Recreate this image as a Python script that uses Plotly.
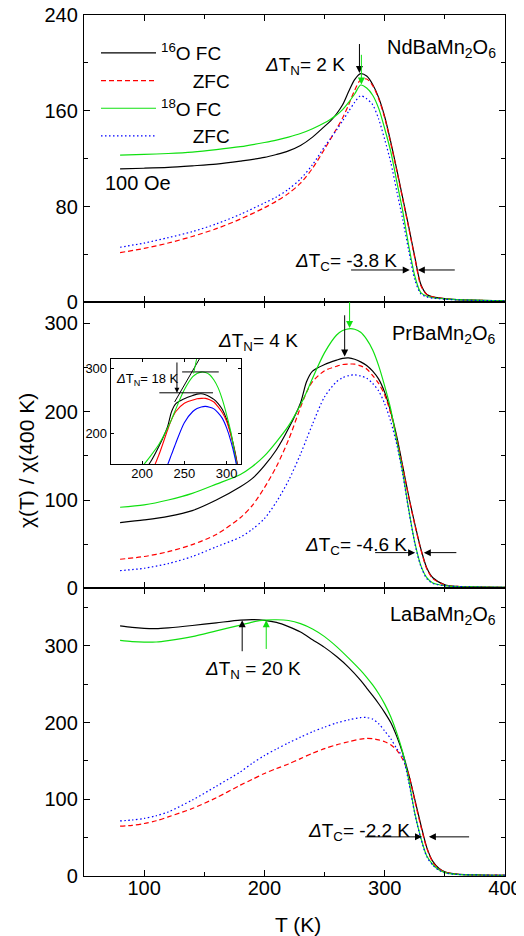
import plotly.graph_objects as go

# ---------------- data ----------------
series_names = ["<sup>16</sup>O FC", "\u00a0\u00a0\u00a0\u00a0\u00a0\u00a0ZFC",
                "<sup>18</sup>O FC", "\u00a0\u00a0\u00a0\u00a0\u00a0\u00a0ZFC"]
compounds = ["NdBaMn<sub>2</sub>O<sub>6</sub>", "PrBaMn<sub>2</sub>O<sub>6</sub>",
             "LaBaMn<sub>2</sub>O<sub>6</sub>"]

T_nd = [80, 100, 120, 140, 160, 180, 200, 210, 220, 230, 240, 250, 255, 260, 265, 270, 275,
        280, 285, 290, 295, 300, 305, 310, 315, 320, 325, 330, 335, 340, 350, 360, 380, 400]
nd_fc16 = [111.5, 112, 112.7, 114, 115.5, 118, 121, 123.5, 126.5, 131, 138, 147, 151.5,
           157.5, 165, 176, 186, 191, 189, 182, 171, 155, 134, 111, 87, 63, 38, 15, 6.5, 4.5,
           3, 2.2, 1.6, 1.3]
nd_zfc16 = [41.5, 45, 49.5, 55, 61.5, 69.5, 79, 84.5, 91, 99.5, 112, 128, 136.5, 145, 154,
            165, 177, 186, 186.5, 181, 170, 154, 133, 110, 86, 62, 37, 14, 6.5, 4.5, 3, 2.2,
            1.6, 1.3]
nd_fc18 = [123, 123.5, 124.3, 125.5, 127.5, 130, 133.5, 135.5, 138, 141, 145, 150, 153, 156.5,
           161, 167, 174, 181.5, 179, 173, 162, 145, 126, 101, 76, 47, 22, 8, 5, 3.8, 2.8,
           2.2, 1.6, 1.3]
nd_zfc18 = [46, 49.5, 54, 59, 65.5, 73.5, 83, 88, 94.5, 103, 115, 130, 137, 144, 151.5, 159.5,
            167, 172.5, 170, 165, 153, 136, 117, 93, 69, 43, 19, 7, 4.5, 3.5, 2.6, 2, 1.5, 1.2]

T_pr = [80, 100, 120, 140, 160, 180, 190, 200, 210, 220, 230, 235, 240, 250, 260, 265, 270,
        275, 280, 285, 290, 295, 300, 305, 310, 315, 320, 325, 330, 335, 340, 350, 360, 380, 400]
pr_fc16 = [74.4, 77.5, 81.5, 88, 100, 115, 124.5, 139, 157, 181, 210, 234, 246, 253.5, 258.5,
           260.5, 261, 259.5, 256.5, 252.5, 246, 237, 222, 200, 172, 138, 104, 73, 45, 23, 12,
           4, 2.2, 1.4, 1]
pr_zfc16 = [32.9, 36, 41.5, 49.5, 61, 80, 94, 114, 138, 168, 205, 222, 234, 246.5, 251.5,
            253.5, 254, 254, 252, 248.5, 241, 232, 219, 198, 170, 137, 103, 72, 44, 22, 11,
            3.8, 2.1, 1.4, 1]
pr_fc18 = [91.8, 94.5, 100, 107.5, 118, 129, 138, 150, 166, 184, 208, 222, 238, 267, 287,
           292, 294, 293.5, 290, 282, 270, 252, 229, 203, 167, 131, 89, 52, 26, 12, 6, 3, 2,
           1.4, 1]
pr_zfc18 = [20, 22.7, 28, 36, 47, 58, 67, 79, 98, 122, 152, 169, 186, 217, 234, 238.5, 241,
            241.8, 240.5, 238, 232, 223.5, 209, 189, 163, 129, 88, 51, 25, 11, 5.5, 3, 2, 1.3, 1]

T_la = [80, 90, 100, 110, 120, 140, 160, 180, 190, 200, 210, 220, 230, 240, 250, 260, 270,
        280, 285, 290, 295, 300, 305, 310, 315, 320, 325, 330, 335, 340, 345, 350, 360, 380,
        400]
la_fc16 = [326, 324, 322.8, 322.5, 323.5, 326.5, 330, 333.5, 334.2, 333.3, 330.5, 325, 318,
           308, 298, 286, 272, 255, 245, 235, 224.5, 213, 200, 182, 160, 132, 100, 67, 37, 19,
           10, 5.5, 2.5, 1.3, 1]
la_zfc16 = [65, 66, 68.4, 72, 77, 88, 102, 118.4, 126, 133.7, 140, 146, 153, 160, 166, 171,
            175, 178.5, 179.4, 179, 177.5, 175, 171, 164, 152, 132, 98, 65, 36, 18, 9.5, 5,
            2.4, 1.3, 1]
la_fc18 = [307, 305.5, 304.8, 305, 306.8, 312, 319.5, 327, 331, 333.5, 334, 333, 329, 322,
           312, 299, 284, 268, 259, 249, 237.5, 224, 207.5, 186.5, 161, 125, 82, 50, 26, 15, 8,
           4.5, 2.2, 1.3, 1]
la_zfc18 = [71.8, 73, 75, 78.5, 83.5, 99, 117, 135.8, 147, 157, 165.5, 173.5, 181, 188, 194,
            199.5, 203.5, 206.5, 206.5, 204.5, 198.5, 189, 179, 166, 155, 122, 81, 49, 25, 14,
            7.5, 4, 2.1, 1.3, 1]

x_range = [50, 400]
y_ranges = [[0, 240], [0, 324], [0, 375]]
y_dticks = [80, 100, 100]
inset_x_range = [163, 317]
inset_y_range = [154, 314]

# ---------------- styling ----------------
FONT = "Liberation Sans, Arial, sans-serif"
colors = ["#000000", "#ff0000", "#10e010", "#0000ff"]
dashes = ["solid", "5px,3px", "solid", "1.5px,2.5px"]

W, H = 524, 936
OFF = 8  # page body margin offset in the rendered view
ml, mr, mt, mb = 84 - OFF, 19 + OFF, 15 - OFF, 60 + OFF
pw = W - ml - mr
ph = H - mt - mb


def yf(py):
    return (H - mb - (py - OFF)) / ph


def xf(px):
    return (px - OFF - ml) / pw


dom1 = [yf(302.3), 1.0]
dom2 = [yf(588.3), yf(302.3)]
dom3 = [0.0, yf(588.3)]

fig = go.Figure()

panels = [
    (T_nd, [nd_fc16, nd_zfc16, nd_fc18, nd_zfc18], "x", "y"),
    (T_pr, [pr_fc16, pr_zfc16, pr_fc18, pr_zfc18], "x2", "y2"),
    (T_la, [la_fc16, la_zfc16, la_fc18, la_zfc18], "x3", "y3"),
]
for pi, (T, vals, xa, ya) in enumerate(panels):
    for si, v in enumerate(vals):
        fig.add_trace(go.Scatter(
            x=T, y=v, mode="lines", xaxis=xa, yaxis=ya,
            name=series_names[si], showlegend=(pi == 0),
            line=dict(color=colors[si], width=1.2, dash=dashes[si],
                      shape="spline", smoothing=0.8),
        ))

# inset (same PrBaMn2O6 data, solid lines)
for si, v in enumerate([pr_fc16, pr_zfc16, pr_fc18, pr_zfc18]):
    fig.add_trace(go.Scatter(
        x=T_pr, y=v, mode="lines", xaxis="x4", yaxis="y4", showlegend=False,
        line=dict(color=colors[si], width=1.1, shape="spline", smoothing=0.8),
    ))

axis_common = dict(showline=True, linecolor="black", linewidth=1.3, mirror="ticks",
                   ticks="inside", ticklen=6, tickwidth=1.2, tickcolor="black",
                   showgrid=False, zeroline=False, automargin=False,
                   ticklabeloverflow="allow",
                   tickfont=dict(family=FONT, size=20, color="black"))
xminor = dict(ticks="inside", ticklen=4, dtick=50, tickcolor="black", tickwidth=1.2)

layout = dict(
    template="none",
    width=W, height=H, margin=dict(l=ml, r=mr, t=mt, b=mb, pad=0),
    paper_bgcolor="white", plot_bgcolor="white",
    font=dict(family=FONT, size=20, color="black"),
    showlegend=True,
    legend=dict(x=xf(96), y=yf(34), xanchor="left", yanchor="top",
                bgcolor="rgba(0,0,0,0)", borderwidth=0, font=dict(family=FONT, size=19),
                itemwidth=55, tracegroupgap=0),
)
for i, dom in enumerate([dom1, dom2, dom3]):
    n = "" if i == 0 else str(i + 1)
    layout["xaxis" + n] = dict(axis_common, range=x_range, dtick=100, tick0=0,
                               minor=xminor, anchor="y" + n,
                               showticklabels=(i == 2), ticklabelstandoff=-6)
    layout["yaxis" + n] = dict(axis_common, range=y_ranges[i], dtick=y_dticks[i], tick0=0,
                               minor=dict(ticks="inside", ticklen=4, dtick=y_dticks[i] / 2,
                                          tickcolor="black", tickwidth=1.2),
                               anchor="x" + n, domain=dom, ticklabelstandoff=1)

inset_common = dict(showline=True, linecolor="black", linewidth=1, mirror="ticks",
                    ticks="inside", ticklen=3, tickcolor="black", showgrid=False,
                    zeroline=False, automargin=False, ticklabeloverflow="allow",
                    tickfont=dict(family=FONT, size=13, color="black"))
layout["xaxis4"] = dict(inset_common, range=inset_x_range, tickvals=[200, 250, 300],
                        domain=[xf(110.7), xf(241)], anchor="y4", ticklabelstandoff=-3)
layout["yaxis4"] = dict(inset_common, range=inset_y_range, tickvals=[200, 300],
                        domain=[yf(464), yf(359)], anchor="x4", ticklabelstandoff=0)
fig.update_layout(**layout)

ann = []


def text(x, y, s, xr, yr, size=19, xanchor="center", yanchor="middle"):
    ann.append(dict(x=x, y=y, xref=xr, yref=yr, text=s, showarrow=False,
                    xanchor=xanchor, yanchor=yanchor,
                    font=dict(family=FONT, size=size, color="black")))


def arrow(x, y, ax, ay, xr, yr, color="black", size=1.4):
    ann.append(dict(x=x, y=y, ax=ax, ay=ay, xref=xr, yref=yr, axref=xr, ayref=yr,
                    text="", showarrow=True, arrowhead=2, arrowsize=size,
                    arrowwidth=1, arrowcolor=color, standoff=0, startstandoff=0))


# panel labels
text(394, 212, compounds[0], "x", "y", size=20, xanchor="right")
text(394, 288, compounds[1], "x2", "y2", size=20, xanchor="right")
text(394, 339, compounds[2], "x3", "y3", size=20, xanchor="right")
text(65.5, 99.7, "100 Oe", "x", "y", size=20, xanchor="left")

# panel 1 annotations
text(268.9, 197, "<i>Δ</i>T<sub>N</sub>= 2 K", "x", "y", xanchor="right")
arrow(279, 191.5, 279, 217, "x", "y")
arrow(280.6, 182, 280.6, 208, "x", "y", color=colors[2])
text(268, 34, "<i>Δ</i>T<sub>C</sub>= -3.8 K", "x", "y")
arrow(320.8, 27, 270.8, 27, "x", "y")
arrow(327.5, 27, 359.5, 27, "x", "y")

# panel 2 annotations
text(229.5, 279, "<i>Δ</i>T<sub>N</sub>= 4 K", "x2", "y2", xanchor="right")
arrow(266.7, 262.6, 266.7, 311, "x2", "y2")
arrow(270.8, 295, 270.8, 326, "x2", "y2", color=colors[2])
text(276, 48, "<i>Δ</i>T<sub>C</sub>= -4.6 K", "x2", "y2")
arrow(325.3, 40.4, 290.8, 40.4, "x2", "y2")
arrow(332.5, 40.4, 360.8, 40.4, "x2", "y2")

# panel 3 annotations
text(190.2, 268, "<i>Δ</i>T<sub>N</sub> = 20 K", "x3", "y3")
arrow(181.5, 333.5, 181.5, 291, "x3", "y3")
arrow(201.5, 333.5, 201.5, 294, "x3", "y3", color=colors[2])
text(279, 57, "<i>Δ</i>T<sub>C</sub>= -2.2 K", "x3", "y3")
arrow(331, 51, 282.5, 51, "x3", "y3")
arrow(336.7, 51, 371.4, 51, "x3", "y3")

# inset annotations
text(167, 283, "<i>Δ</i>T<sub>N</sub>= 18 K", "x4", "y4", size=13, xanchor="left")
arrow(241.3, 262.5, 241.3, 311, "x4", "y4", size=1.0)

# axis titles
ann.append(dict(x=xf(27), y=yf(461), xref="paper", yref="paper", text="χ(T) / χ(400 K)",
                xanchor="center", yanchor="middle",
                showarrow=False, textangle=-90, font=dict(family=FONT, size=21)))
ann.append(dict(x=xf(298), y=yf(924), xref="paper", yref="paper", text="T (K)",
                xanchor="center", yanchor="middle",
                showarrow=False, font=dict(family=FONT, size=21)))
fig.update_layout(annotations=ann)

# inset construction lines
shapes = [
    dict(type="line", xref="x4", yref="y4", x0=220.5, x1=283.9, y0=262.5, y1=262.5,
         line=dict(color="black", width=1)),
    dict(type="line", xref="x4", yref="y4", x0=247.4, x1=290.7, y0=294.3, y1=294.3,
         line=dict(color="black", width=1)),
    dict(type="line", xref="x4", yref="y4", x0=238.6, x1=267.8, y0=248.6, y1=314,
         line=dict(color="black", width=1)),
    dict(type="line", xref="x4", yref="y4", x0=261, x1=264.5, y0=292, y1=314,
         line=dict(color=colors[2], width=1)),
]
fig.update_layout(shapes=shapes)

fig.write_html("out.html")
